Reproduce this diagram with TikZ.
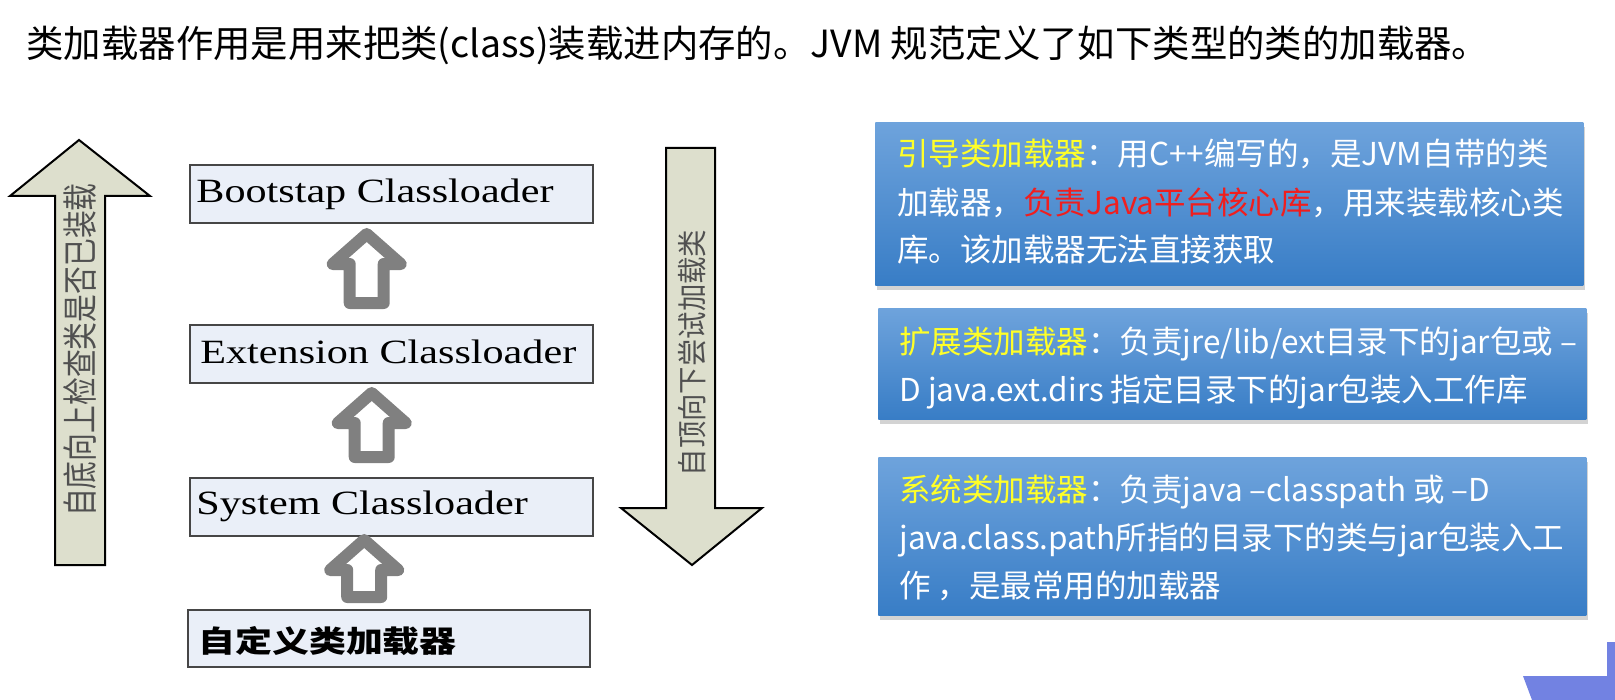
\documentclass[tikz,border=0pt]{standalone}
\usepackage{fontspec}
\usepackage{graphicx}
\setmainfont{Liberation Serif}
\newfontfamily\cjk{Noto Sans CJK SC}
\usetikzlibrary{calc,shadows}
\definecolor{boxfill}{RGB}{234,239,248}
\definecolor{boxline}{RGB}{70,70,70}
\definecolor{khaki}{RGB}{221,223,205}
\definecolor{arrowgray}{RGB}{128,128,128}
\definecolor{bluetop}{RGB}{110,163,220}
\definecolor{bluebot}{RGB}{56,125,198}
\definecolor{ylw}{RGB}{255,255,40}
\definecolor{redtxt}{RGB}{240,30,30}
\definecolor{cornerblue}{RGB}{114,130,226}
\definecolor{vtext}{RGB}{80,80,80}
\tikzset{
  harrow/.pic={
    \draw[line width=6pt, draw=arrowgray, fill=white, line join=round]
      (-17,-6) -- (17,-6) -- (17,{-(#1-36)}) -- (34,{-(#1-36)})
      -- (0,{-(#1-6)}) -- (-34,{-(#1-36)}) -- (-17,{-(#1-36)}) -- cycle;
  },
  lbox/.style={draw=boxline, fill=boxfill, line width=1.2pt, inner sep=0pt,
    anchor=north west, minimum width=201.5pt, minimum height=29pt},
  ltext/.style={anchor=base west, inner sep=0pt, font=\fontsize{17pt}{20pt}\selectfont},
  sidearrow/.style={draw=black, fill=khaki, line width=1pt, line join=miter},
  vlabel/.style={rotate=90, inner sep=0pt, text=vtext},
  bluebox/.style={anchor=north west, inner sep=0pt, minimum width=354pt,
    top color=bluetop, bottom color=bluebot, draw=none,
    drop shadow={shadow xshift=0.8pt, shadow yshift=-2.5pt, opacity=0.35}},
  btext/.style={anchor=base west, inner sep=0pt, text=white,
    font=\cjk\fontsize{15.75pt}{24pt}\selectfont},
}
\begin{document}
\begin{tikzpicture}[x=0.5pt,y=-0.5pt]
\useasboundingbox (0,0) rectangle (1615,700);

% title
\node[anchor=base west, inner sep=0pt, font=\cjk\fontsize{18.7pt}{22pt}\selectfont] (title) at (26,58)
  {类加载器作用是用来把类(class)装载进内存的。JVM 规范定义了如下类型的类的加载器。};

% left boxes
\node[lbox] (boot) at (189,164) {};
\node[lbox] (ext) at (189,324) {};
\node[lbox] (sys) at (189,477) {};
\node[lbox, minimum width=201pt, minimum height=28.5pt] (cust) at (187,609) {};

\node[ltext] (boottxt) at ($(boot.west)+(7,8)$) {\scalebox{1.24}[1]{Bootstap Classloader}};
\node[ltext] (exttxt) at ($(ext.west)+(11,9)$) {\scalebox{1.24}[1]{Extension Classloader}};
\node[ltext] (systxt) at ($(sys.west)+(7,7.5)$) {\scalebox{1.24}[1]{System Classloader}};
\node[anchor=base west, inner sep=0pt, font=\cjk\bfseries\fontsize{15pt}{18pt}\selectfont] (custtxt)
  at ($(cust.west)+(11,14)$) {\scalebox{1.23}[1]{自定义类加载器}};

% hollow block arrows between boxes
\pic at ($(ext.north)+(-25,-15)$) {harrow=81};
\pic at ($(sys.north)+(-20,-14)$) {harrow=76};
\pic at ($(cust.north)+(-25,-6)$) {harrow=69};

% side arrows
\draw[sidearrow] (55,565) -- (55,196) -- (10,196) -- (79,140) -- (150,196)
  -- (105,196) -- (105,565) -- cycle;
\node[vlabel, font=\cjk\fontsize{13.9pt}{16pt}\selectfont] (uplabel) at (80,350)
  {\scalebox{1}[1.27]{自底向上检查类是否已装载}};

\draw[sidearrow] (666,148) -- (715,148) -- (715,508) -- (762,508) -- (692,565)
  -- (621,508) -- (666,508) -- cycle;
\node[vlabel, font=\cjk\fontsize{13.7pt}{16pt}\selectfont] (downlabel) at (692,353)
  {\scalebox{1}[1.09]{自顶向下尝试加载类}};

% blue boxes
\node[bluebox, minimum height=81.5pt] (bx1) at (875,122) {};
\node[bluebox, minimum height=55.5pt] (bx2) at (878,308) {};
\node[bluebox, minimum height=79pt] (bx3) at (878,457) {};

\node[btext] (l11) at ($(bx1.north west)+(22,44)$) {{\color{ylw}引导类加载器}：用C++编写的，是JVM自带的类};
\node[btext] (l12) at ($(bx1.north west)+(22,92)$) {加载器，{\color{redtxt}负责Java平台核心库}，用来装载核心类};
\node[btext] (l13) at ($(bx1.north west)+(22,140)$) {库。该加载器无法直接获取};

\node[btext] (l21) at ($(bx2.north west)+(21,45)$) {{\color{ylw}扩展类加载器}：负责jre/lib/ext目录下的jar包或 –};
\node[btext] (l22) at ($(bx2.north west)+(21,93)$) {D java.ext.dirs 指定目录下的jar包装入工作库};

\node[btext] (l31) at ($(bx3.north west)+(21,44)$) {{\color{ylw}系统类加载器}：负责java –classpath 或 –D};
\node[btext] (l32) at ($(bx3.north west)+(21,92)$) {java.class.path所指的目录下的类与jar包装入工};
\node[btext] (l33) at ($(bx3.north west)+(21,140)$) {作 ，是最常用的加载器};

% corner decoration
\fill[cornerblue] (1523,676) -- (1607,676) -- (1607,642) -- (1615,642)
  -- (1615,700) -- (1532,700) -- cycle;
\end{tikzpicture}
\end{document}
